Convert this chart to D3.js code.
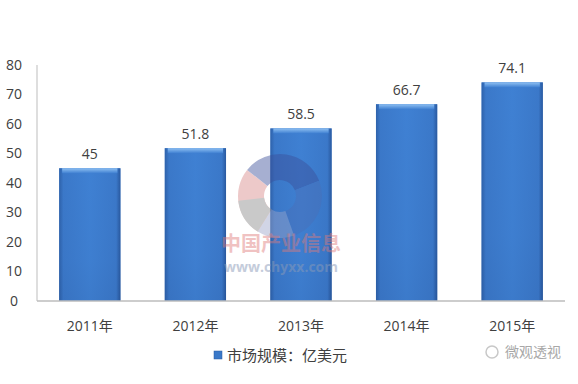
<!DOCTYPE html>
<html>
<head>
<meta charset="utf-8">
<script src="https://cdn.jsdelivr.net/npm/d3@7"></script>
<style>
  html, body { margin: 0; padding: 0; background: #fff; }
  svg { display: block; font-family: "Open Sans", "Noto Sans CJK SC", sans-serif; }
</style>
</head>
<body>
<svg id="chart" width="578" height="384"></svg>
<script>
const years = ["2011年", "2012年", "2013年", "2014年", "2015年"];
const marketSize = [45, 51.8, 58.5, 66.7, 74.1];
const yTicks = [0, 10, 20, 30, 40, 50, 60, 70, 80];
const legendLabel = "市场规模：亿美元";

const svg = d3.select("#chart");
const plotLeft = 37, plotRight = 565, plotTop = 65, plotBottom = 301;

const x = d3.scaleBand().domain(years).range([plotLeft, plotRight]).paddingInner(0.42).paddingOuter(0.21);
const y = d3.scaleLinear().domain([0, 80]).range([plotBottom, plotTop]);

// gradients for the bevelled bars
const defs = svg.append("defs");
const g1 = defs.append("linearGradient").attr("id", "barH").attr("x1", 0).attr("x2", 1).attr("y1", 0).attr("y2", 0);
[[0, "#2a5aa0"], [0.07, "#3a76c6"], [0.5, "#3f80d2"], [0.93, "#3a76c6"], [1, "#244f92"]]
  .forEach(s => g1.append("stop").attr("offset", s[0]).attr("stop-color", s[1]));
const g2 = defs.append("linearGradient").attr("id", "barV").attr("x1", 0).attr("x2", 0).attr("y1", 0).attr("y2", 1);
[[0, "#3f82d6"], [0.7, "#3a78c8"], [1, "#2f64ad"]]
  .forEach(s => g2.append("stop").attr("offset", s[0]).attr("stop-color", s[1]));
const g3 = defs.append("linearGradient").attr("id", "bevel").attr("x1", 0).attr("x2", 0).attr("y1", 0).attr("y2", 1);
[[0, "#8fc0f2"], [1, "#3f80d2"]]
  .forEach(s => g3.append("stop").attr("offset", s[0]).attr("stop-color", s[1]));

// axes
svg.append("line").attr("x1", plotLeft).attr("x2", plotLeft).attr("y1", y(80)).attr("y2", plotBottom)
  .attr("stroke", "#bdbdbd").attr("stroke-width", 1);

svg.append("g").selectAll("text").data(yTicks).join("text")
  .attr("x", 14).attr("y", d => y(d)).attr("dy", "0.35em")
  .attr("text-anchor", "middle").attr("font-size", 14).attr("fill", "#404040")
  .text(d => d);

// bars
const bars = svg.append("g").selectAll("g").data(marketSize).join("g");
bars.append("rect")
  .attr("x", (d, i) => x(years[i])).attr("width", x.bandwidth())
  .attr("y", d => y(d)).attr("height", d => plotBottom - y(d))
  .attr("fill", "url(#barV)");
bars.append("rect")
  .attr("x", (d, i) => x(years[i])).attr("width", x.bandwidth())
  .attr("y", d => y(d)).attr("height", d => plotBottom - y(d))
  .attr("fill", "url(#barH)").attr("opacity", 0.8);
// light top bevel
bars.append("rect")
  .attr("x", (d, i) => x(years[i]) + 3).attr("width", x.bandwidth() - 6)
  .attr("y", d => y(d)).attr("height", 5)
  .attr("fill", "url(#bevel)");

bars.append("text")
  .attr("x", (d, i) => x(years[i]) + x.bandwidth() / 2)
  .attr("y", d => y(d) - 14).attr("dy", "0.35em")
  .attr("text-anchor", "middle").attr("font-size", 14).attr("fill", "#404040")
  .text(d => d);

// watermark
const wm = svg.append("g").attr("transform", "translate(280,196)").attr("opacity", 0.45);
const arc = d3.arc().innerRadius(16).outerRadius(42);
[[-2.6, -0.9, "#d98a8a"], [-0.9, 1.2, "#3b4f9a"], [1.2, 2.8, "#4a6fb8"], [2.8, 3.7, "#9aa3c8"], [3.7, 4.6, "#8a8a8a"]]
  .forEach(a => wm.append("path").attr("d", arc({startAngle: a[0], endAngle: a[1]})).attr("fill", a[2]));
svg.append("text").attr("x", 281).attr("y", 251).attr("text-anchor", "middle")
  .attr("font-family", "Noto Sans CJK SC").attr("font-size", 20).attr("font-weight", "bold")
  .attr("fill", "#e07a7a").attr("opacity", 0.45).text("中国产业信息");
svg.append("text").attr("x", 281).attr("y", 272).attr("text-anchor", "middle")
  .attr("font-size", 14).attr("font-weight", "bold")
  .attr("fill", "#8a9ab8").attr("opacity", 0.5).text("www.chyxx.com");

// x axis
svg.append("line").attr("x1", plotLeft).attr("x2", plotRight).attr("y1", plotBottom).attr("y2", plotBottom)
  .attr("stroke", "#bdbdbd").attr("stroke-width", 1.5);
svg.append("g").selectAll("text").data(years).join("text")
  .attr("x", d => x(d) + x.bandwidth() / 2).attr("y", 326).attr("dy", "0.35em")
  .attr("text-anchor", "middle").attr("font-size", 14).attr("fill", "#404040")
  .text(d => d);

// legend
svg.append("rect").attr("x", 214).attr("y", 351).attr("width", 8).attr("height", 8)
  .attr("fill", "#3a78c8").attr("stroke", "#2a5aa0").attr("stroke-width", 0.5);
svg.append("text").attr("x", 227).attr("y", 356).attr("dy", "0.35em")
  .attr("font-family", "Noto Sans CJK SC").attr("font-size", 15).attr("fill", "#404040")
  .text(legendLabel);

// corner tag
svg.append("circle").attr("cx", 492).attr("cy", 352).attr("r", 6)
  .attr("fill", "none").attr("stroke", "#c8c8c8").attr("stroke-width", 1.5);
svg.append("text").attr("x", 505).attr("y", 352).attr("dy", "0.35em")
  .attr("font-family", "Noto Sans CJK SC").attr("font-size", 14).attr("fill", "#a8a8a8")
  .text("微观透视");
</script>
</body>
</html>
